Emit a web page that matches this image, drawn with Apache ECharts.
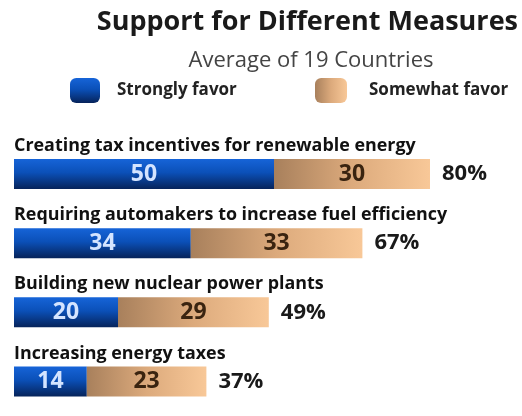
<!DOCTYPE html>
<html><head><meta charset="utf-8">
<script src="https://cdn.jsdelivr.net/npm/echarts@6/dist/echarts.min.js"></script>
<style>html,body{margin:0;padding:0;background:#fff}#c{width:522px;height:416px}</style>
</head><body><div id="c"></div>
<script>
const categories = [
  'Creating tax incentives for renewable energy',
  'Requiring automakers to increase fuel efficiency',
  'Building new nuclear power plants',
  'Increasing energy taxes'
];
const stronglyFavor = [50, 34, 20, 14];
const somewhatFavor = [30, 33, 29, 23];
const totals = [80, 67, 49, 37];
const seriesNames = ['Strongly favor', 'Somewhat favor'];

const FONT = 'Open Sans';
const blueGrad = new echarts.graphic.LinearGradient(0, 0, 0, 1, [
  {offset: 0, color: '#1664d8'}, {offset: 0.45, color: '#0b50b8'}, {offset: 1, color: '#06235a'}
]);
const orangeGrad = new echarts.graphic.LinearGradient(0, 0, 1, 0, [
  {offset: 0, color: '#a8805c'}, {offset: 0.5, color: '#dcaa7c'}, {offset: 1, color: '#f8c898'}
]);
const legendText = {fontFamily: FONT, fontWeight: 'bold', fontSize: 17, color: '#222'};

const chart = echarts.init(document.getElementById('c'));
chart.setOption({
  backgroundColor: '#fff',
  animation: false,
  title: [
    {text: 'Support for Different Measures', right: 4, top: 9, padding: 0,
     textStyle: {fontFamily: FONT, fontWeight: 'bold', fontSize: 27, color: '#1a1a1a'}},
    {text: 'Average of 19 Countries', left: 311, top: 50, textAlign: 'center', padding: 0,
     textStyle: {fontFamily: FONT, fontWeight: 'normal', fontSize: 22, color: '#444'}}
  ],
  legend: [
    {left: 70, top: 78, padding: 0, itemWidth: 30, itemHeight: 25, data: [seriesNames[0]],
     textStyle: Object.assign({padding: [6, 0, 0, 12]}, legendText)},
    {left: 315, top: 78, padding: 0, itemWidth: 32, itemHeight: 25, data: [seriesNames[1]],
     textStyle: Object.assign({padding: [6, 0, 0, 17]}, legendText)}
  ],
  grid: {left: 14, top: 139.5, width: 416, height: 300, containLabel: false},
  xAxis: {type: 'value', min: 0, max: 80, show: false},
  yAxis: {
    type: 'category', data: categories, inverse: true,
    axisLine: {show: false}, axisTick: {show: false}, splitLine: {show: false},
    axisLabel: {inside: true, margin: 0, align: 'left', verticalAlign: 'bottom',
      padding: [0, 0, 18, 0], lineHeight: 20,
      fontFamily: FONT, fontWeight: 'bold', fontSize: 17.9, color: '#111'}
  },
  series: [
    {name: seriesNames[0], type: 'bar', stack: 't', barWidth: 30, data: stronglyFavor,
     itemStyle: {color: blueGrad},
     label: {show: true, position: 'inside', fontFamily: FONT, fontWeight: 'bold', fontSize: 23, color: '#d4e4ff'}},
    {name: seriesNames[1], type: 'bar', stack: 't', barWidth: 30, data: somewhatFavor,
     itemStyle: {color: orangeGrad},
     label: {show: true, position: 'inside', fontFamily: FONT, fontWeight: 'bold', fontSize: 23, color: '#3a2410'}},
    {type: 'scatter', symbolSize: 0, silent: true, clip: false,
     itemStyle: {opacity: 1},
     data: totals.map((t, i) => [t, i]),
     label: {show: true, position: 'right', distance: 12, formatter: p => p.value[0] + '%',
       opacity: 1, fontFamily: FONT, fontWeight: 'bold', fontSize: 22, color: '#1a1a1a'}}
  ]
});
</script></body></html>
